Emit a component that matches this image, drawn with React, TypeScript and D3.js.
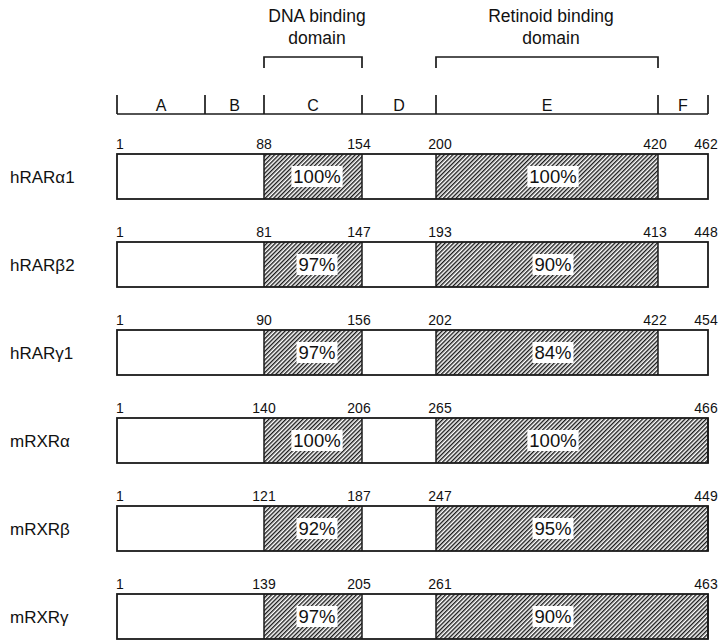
import * as d3 from 'd3';

// receptor rows, top to bottom
const receptors = ['hRARα1', 'hRARβ2', 'hRARγ1', 'mRXRα', 'mRXRβ', 'mRXRγ'];
const cStart = [88, 81, 90, 140, 121, 139];
const cEnd = [154, 147, 156, 206, 187, 205];
const eStart = [200, 193, 202, 265, 247, 261];
const eEnd: (number | null)[] = [420, 413, 422, null, null, null];
const totalLength = [462, 448, 454, 466, 449, 463];
const dnaIdentity = [100, 97, 97, 100, 92, 97];
const ligandIdentity = [100, 90, 84, 100, 95, 90];

// header regions
const regionLetters = ['A', 'B', 'C', 'D', 'E', 'F'];
const boundaryKeys = ['start', 'B', 'C', 'D', 'E', 'F', 'end'];

const W = 723;
const H = 640;
const font = '"Liberation Sans", Arial, Helvetica, sans-serif';

// schematic (not to scale) placement of domain boundaries
const bx = d3
  .scaleOrdinal<string, number>()
  .domain(boundaryKeys)
  .range([117, 205, 264, 362, 436, 658, 708]);

const y = d3
  .scaleBand<string>()
  .domain(receptors)
  .range([154, 639])
  .paddingInner(43 / 88)
  .paddingOuter(0);

const textWidth = (s: string, size: number) =>
  d3.sum(s.split(''), (c) => (c === '%' ? 0.889 : 0.556)) * size;

const Pct = ({cx, cy, value}: {cx: number; cy: number; value: number}) => {
  const label = `${value}%`;
  const size = 18.5;
  const w = textWidth(label, size) + 4;
  return (
    <g>
      <rect x={cx - w / 2} y={cy - 10.5} width={w} height={21} fill='#fff' />
      <text
        x={cx}
        y={cy}
        dy='0.36em'
        textAnchor='middle'
        fontSize={size}
        fill='#111'
      >
        {label}
      </text>
    </g>
  );
};

const App = () => {
  const axisY = 114;
  const tickTop = 95;
  const bracketY = 57;
  const stroke = '#1a1a1a';

  const brackets = [
    {from: 'C', to: 'D', lines: ['DNA binding', 'domain']},
    {from: 'E', to: 'F', lines: ['Retinoid binding', 'domain']},
  ];

  return (
    <svg
      width={W}
      height={H}
      style={{position: 'absolute', left: 0, top: 0, background: '#fff'}}
      fontFamily={font}
    >
      <defs>
        <pattern
          id='hatch'
          patternUnits='userSpaceOnUse'
          width={3}
          height={3}
          patternTransform='rotate(45)'
        >
          <rect width={3} height={3} fill='#fff' />
          <line x1={0.7} y1={0} x2={0.7} y2={3} stroke='#1a1a1a' strokeWidth={1.4} />
        </pattern>
      </defs>

      {/* domain brackets and titles */}
      {brackets.map((b) => {
        const x0 = bx(b.from);
        const x1 = bx(b.to);
        const cx = (x0 + x1) / 2;
        return (
          <g key={b.from}>
            <path
              d={`M${x0},${bracketY + 11}V${bracketY}H${x1}V${bracketY + 11}`}
              fill='none'
              stroke={stroke}
              strokeWidth={1.7}
            />
            {b.lines.map((t, i) => (
              <text
                key={t}
                x={cx + 4}
                y={22 + i * 22}
                textAnchor='middle'
                fontSize={17.5}
                fill='#111'
              >
                {t}
              </text>
            ))}
          </g>
        );
      })}

      {/* A–F region axis */}
      <line
        x1={bx('start')}
        x2={bx('end')}
        y1={axisY}
        y2={axisY}
        stroke={stroke}
        strokeWidth={1.7}
      />
      {boundaryKeys.map((k) => (
        <line
          key={k}
          x1={bx(k)}
          x2={bx(k)}
          y1={tickTop}
          y2={axisY}
          stroke={stroke}
          strokeWidth={1.7}
        />
      ))}
      {regionLetters.map((l, i) => (
        <text
          key={l}
          x={(bx(boundaryKeys[i]) + bx(boundaryKeys[i + 1])) / 2}
          y={axisY - 3}
          textAnchor='middle'
          fontSize={16}
          fill='#111'
        >
          {l}
        </text>
      ))}

      {/* receptor bars */}
      {receptors.map((name, i) => {
        const top = y(name)!;
        const h = y.bandwidth();
        const mid = top + h / 2;
        const xs = bx('start');
        const xc0 = bx('C');
        const xc1 = bx('D');
        const xe0 = bx('E');
        const xe1 = eEnd[i] === null ? bx('end') : bx('F');
        const xend = bx('end');
        const numY = top - 5;
        const nums: {v: number; x: number; anchor: string}[] = [
          {v: 1, x: xs - 1, anchor: 'start'},
          {v: cStart[i], x: xc0, anchor: 'middle'},
          {v: cEnd[i], x: xc1 - 3, anchor: 'middle'},
          {v: eStart[i], x: xe0 + 4, anchor: 'middle'},
        ];
        if (eEnd[i] !== null) nums.push({v: eEnd[i]!, x: xe1 - 3, anchor: 'middle'});
        nums.push({v: totalLength[i], x: xend - 2, anchor: 'middle'});

        return (
          <g key={name}>
            <text x={10} y={mid} dy='0.36em' fontSize={17} fill='#111'>
              {name}
            </text>
            <rect x={xs} y={top} width={xend - xs} height={h} fill='#fff' />
            <rect x={xc0} y={top} width={xc1 - xc0} height={h} fill='url(#hatch)' />
            <rect x={xe0} y={top} width={xe1 - xe0} height={h} fill='url(#hatch)' />
            <rect
              x={xs}
              y={top}
              width={xend - xs}
              height={h}
              fill='none'
              stroke={stroke}
              strokeWidth={1.8}
            />
            {[xc0, xc1, xe0, xe1].map((x, j) => (
              <line
                key={j}
                x1={x}
                x2={x}
                y1={top}
                y2={top + h}
                stroke={stroke}
                strokeWidth={1.5}
              />
            ))}
            <Pct cx={(xc0 + xc1) / 2 + 4} cy={mid} value={dnaIdentity[i]} />
            <Pct cx={(xe0 + bx('F')) / 2 + 6} cy={mid} value={ligandIdentity[i]} />
            {nums.map((n, j) => (
              <text
                key={j}
                x={n.x}
                y={numY}
                textAnchor={n.anchor as any}
                fontSize={14}
                fill='#111'
              >
                {n.v}
              </text>
            ))}
          </g>
        );
      })}
    </svg>
  );
};

export default App;
